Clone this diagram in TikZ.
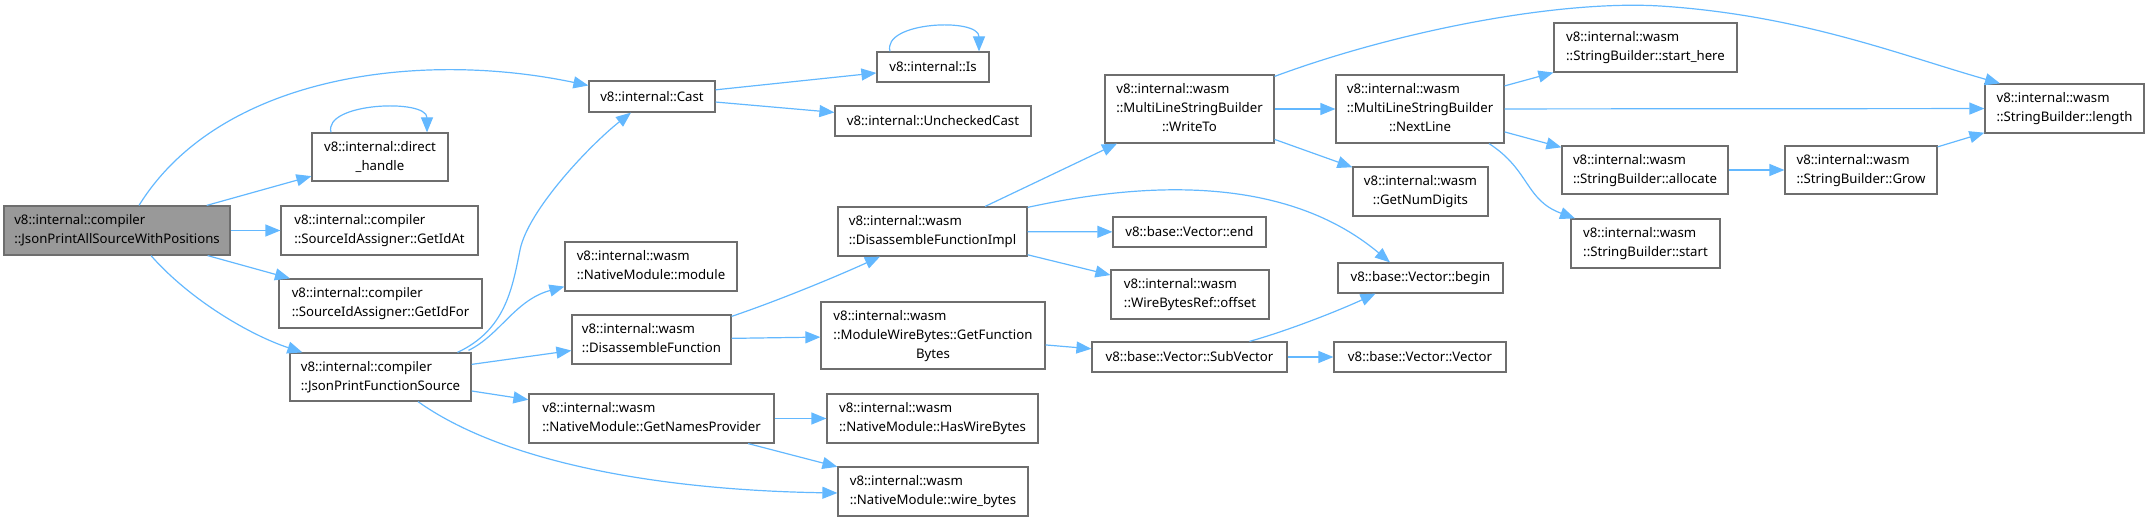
\documentclass[tikz,border=0pt]{standalone}
\usepackage{fontspec}
\setmainfont{Noto Sans}
\usetikzlibrary{arrows.meta,calc}
\definecolor{edgeblue}{HTML}{63B8FF}
\definecolor{boxgray}{HTML}{6E6E6E}
\definecolor{rootfill}{HTML}{999999}
\newcommand\mylinesii[2]{\begin{tabular}{@{}l@{}}#1\\\multicolumn{1}{@{}c@{}}{#2}\end{tabular}}
\newcommand\mylinesiii[3]{\begin{tabular}{@{}l@{}}#1\\#2\\\multicolumn{1}{@{}c@{}}{#3}\end{tabular}}
\tikzset{
  cbox/.style={draw=boxgray, fill=white, line width=1.2pt, inner sep=0pt,
    font=\fontsize{13.2}{19}\selectfont, text=black},
  conn/.style={-{Triangle[length=15pt,width=12pt]}, draw=edgeblue, fill=none, line width=1.2pt},
}
\begin{document}
\begin{tikzpicture}[x=1pt,y=-1pt]
\useasboundingbox (0,0) rectangle (2151,521);
% nodes
\node[cbox, fill=rootfill, minimum width=226pt, minimum height=49pt] (root) at (117,230.5) {\mylinesii{v8::internal::compiler}{::JsonPrintAllSourceWithPositions}};
\node[cbox, minimum width=126pt, minimum height=31pt] (cast) at (652,96.5) {v8::internal::Cast};
\node[cbox, minimum width=136pt, minimum height=48pt] (dh) at (380,157) {\mylinesii{v8::internal::direct}{\_handle}};
\node[cbox, minimum width=197pt, minimum height=49pt] (getidat) at (379.5,230.5) {\mylinesii{v8::internal::compiler}{::SourceIdAssigner::GetIdAt}};
\node[cbox, minimum width=203pt, minimum height=49pt] (getidfor) at (380.5,303.5) {\mylinesii{v8::internal::compiler}{::SourceIdAssigner::GetIdFor}};
\node[cbox, minimum width=181pt, minimum height=48pt] (jpfs) at (380.5,377) {\mylinesii{v8::internal::compiler}{::JsonPrintFunctionSource}};
\node[cbox, minimum width=172pt, minimum height=49pt] (module) at (651,266.5) {\mylinesii{v8::internal::wasm}{::NativeModule::module}};
\node[cbox, minimum width=159pt, minimum height=49pt] (disfn) at (651.5,339.5) {\mylinesii{v8::internal::wasm}{::DisassembleFunction}};
\node[cbox, minimum width=245pt, minimum height=49pt] (gnp) at (651.5,418.5) {\mylinesii{v8::internal::wasm}{::NativeModule::GetNamesProvider}};
\node[cbox, minimum width=112pt, minimum height=30pt] (is) at (933,67) {v8::internal::Is};
\node[cbox, minimum width=196pt, minimum height=30pt] (ucast) at (933,121) {v8::internal::UncheckedCast};
\node[cbox, minimum width=189pt, minimum height=49pt] (dfimpl) at (932.5,231.5) {\mylinesii{v8::internal::wasm}{::DisassembleFunctionImpl}};
\node[cbox, minimum width=224pt, minimum height=67pt] (gfb) at (933,335.5) {\mylinesiii{v8::internal::wasm}{::ModuleWireBytes::GetFunction}{Bytes}};
\node[cbox, minimum width=211pt, minimum height=49pt] (hwb) at (932.5,418.5) {\mylinesii{v8::internal::wasm}{::NativeModule::HasWireBytes}};
\node[cbox, minimum width=190pt, minimum height=49pt] (wb) at (933,491.5) {\mylinesii{v8::internal::wasm}{::NativeModule::wire\_bytes}};
\node[cbox, minimum width=169pt, minimum height=68pt] (writeto) at (1189.5,109) {\mylinesiii{v8::internal::wasm}{::MultiLineStringBuilder}{::WriteTo}};
\node[cbox, minimum width=153pt, minimum height=30pt] (vend) at (1189.5,232) {v8::base::Vector::end};
\node[cbox, minimum width=158pt, minimum height=49pt] (offset) at (1190,294.5) {\mylinesii{v8::internal::wasm}{::WireBytesRef::offset}};
\node[cbox, minimum width=195pt, minimum height=30pt] (subvec) at (1189.5,357) {v8::base::Vector::SubVector};
\node[cbox, minimum width=168pt, minimum height=68pt] (nextline) at (1420,109) {\mylinesiii{v8::internal::wasm}{::MultiLineStringBuilder}{::NextLine}};
\node[cbox, minimum width=135pt, minimum height=49pt] (numdig) at (1420.5,191.5) {\mylinesii{v8::internal::wasm}{::GetNumDigits}};
\node[cbox, minimum width=165pt, minimum height=30pt] (vbegin) at (1420.5,278) {v8::base::Vector::begin};
\node[cbox, minimum width=172pt, minimum height=30pt] (vvec) at (1420,357) {v8::base::Vector::Vector};
\node[cbox, minimum width=183pt, minimum height=49pt] (starthere) at (1645.5,47.5) {\mylinesii{v8::internal::wasm}{::StringBuilder::start\_here}};
\node[cbox, minimum width=166pt, minimum height=48pt] (alloc) at (1645,170) {\mylinesii{v8::internal::wasm}{::StringBuilder::allocate}};
\node[cbox, minimum width=149pt, minimum height=49pt] (sbstart) at (1645.5,243.5) {\mylinesii{v8::internal::wasm}{::StringBuilder::start}};
\node[cbox, minimum width=152pt, minimum height=48pt] (grow) at (1861,170) {\mylinesii{v8::internal::wasm}{::StringBuilder::Grow}};
\node[cbox, minimum width=159pt, minimum height=49pt] (length) at (2064.5,108.5) {\mylinesii{v8::internal::wasm}{::StringBuilder::length}};
% edges
\draw[conn] ($(root.north)+(22,0)$) .. controls (220,75) and (420,50) .. ($(cast.west)+(0,-11)$);
\draw[conn] ($(dh.north)+(-49,0)$) .. controls +(-8,-30) and +(0,-34) .. ($(dh.north)+(47,0)$);
\draw[conn] ($(is.north)+(-43,0)$) .. controls +(-8,-30) and +(0,-34) .. ($(is.north)+(46,0)$);
\draw[conn] (root) -- (dh);
\draw[conn] (root) -- (getidat);
\draw[conn] (root) -- (getidfor);
\draw[conn] ($(root.south)+(34,0)$) .. controls (190,300) and (250,335) .. ($(jpfs.north west)+(13,0)$);
\draw[conn] ($(jpfs.north)+(77,0)$) .. controls (505,330) and (512,290) .. (520,250) .. controls (528,210) and (590,145) .. ($(cast.south)+(-21,0)$);
\draw[conn] ($(jpfs.north)+(88,-2)$) .. controls (500,335) and (515,300) .. ($(module.south west)+(0,-5)$);
\draw[conn] (jpfs) -- (disfn);
\draw[conn] (jpfs) -- (gnp);
\draw[conn] ($(jpfs.south)+(37.5,0)$) .. controls (500,460) and (650,490) .. ($(wb.west)+(0,1.5)$);
\draw[conn] ($(disfn.north east)+(0,2)$) .. controls (780,300) and (840,275) .. ($(dfimpl.south)+(-52.5,0)$);
\draw[conn] (disfn) -- (gfb);
\draw[conn] (gnp) -- (hwb);
\draw[conn] (gnp) -- (wb);
\draw[conn] (cast) -- (is);
\draw[conn] (cast) -- (ucast);
\draw[conn] (dfimpl) -- (writeto);
\draw[conn] (dfimpl) -- (vend);
\draw[conn] (dfimpl) -- (offset);
\draw[conn] ($(dfimpl.north east)+(0,1)$) .. controls (1130,185) and (1280,170) .. ($(vbegin.north)+(-30.5,0)$);
\draw[conn] (gfb) -- (subvec);
\draw[conn] ($(subvec.north)+(60,0)$) .. controls (1290,330) and (1340,310) .. ($(vbegin.south)+(-45,0)$);
\draw[conn] (subvec) -- (vvec);
\draw[conn] (writeto) -- (nextline);
\draw[conn] (writeto) -- (numdig);
\draw[conn] ($(writeto.north east)+(0,2)$) .. controls (1400,30) and (1560,0) .. (1660,6) .. controls (1800,15) and (1900,55) .. ($(length.north)+(-64.5,0)$);
\draw[conn] (nextline) -- (starthere);
\draw[conn] (nextline) -- (length);
\draw[conn] (nextline) -- (alloc);
\draw[conn] ($(nextline.south)+(69,0)$) .. controls (1530,170) and (1525,200) .. ($(sbstart.north)+(-70.5,0)$);
\draw[conn] (alloc) -- (grow);
\draw[conn] (grow) -- (length);
\end{tikzpicture}
\end{document}
